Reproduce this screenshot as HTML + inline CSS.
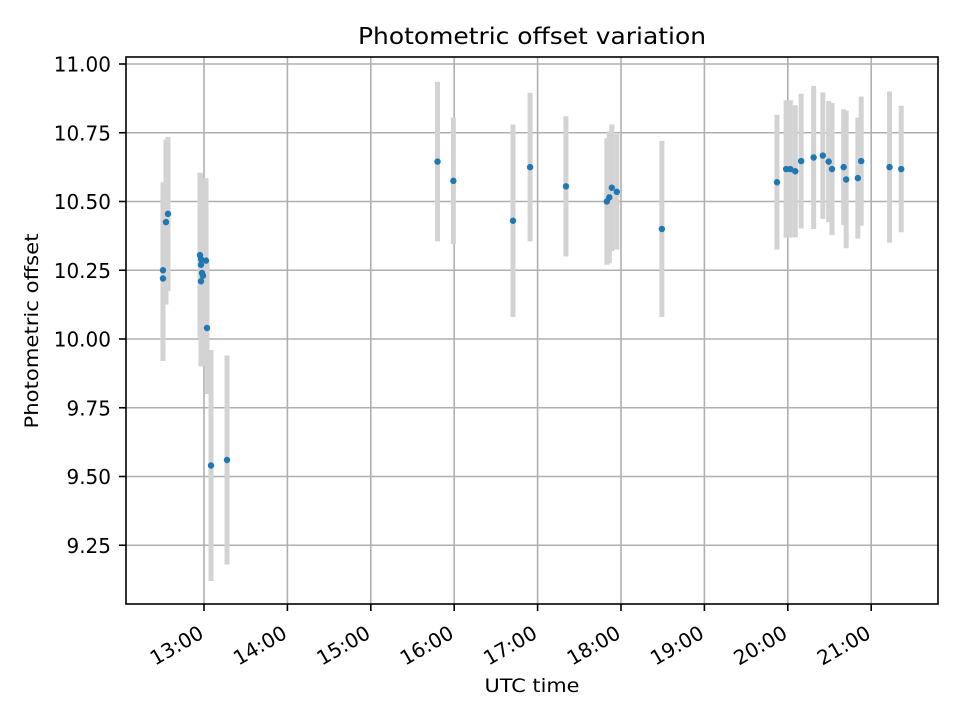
<!DOCTYPE html>
<html><head><meta charset="utf-8">
<style>
html,body{margin:0;padding:0;background:#fff;}
svg text{font-family:"DejaVu Sans","Liberation Sans",sans-serif;fill:#000;}
</style></head>
<body>
<svg id="chart" width="960" height="720" viewBox="0 0 960 720" xmlns="http://www.w3.org/2000/svg">
<rect width="960" height="720" fill="#fff"/>
<g id="grid"></g>
<g id="bars"></g>
<g id="pts"></g>
<rect x="126" y="57" width="812" height="547" fill="none" stroke="#000" stroke-width="1.6"/>
<g id="axes"></g>
<text x="532" y="44" font-size="23" text-anchor="middle" textLength="348" lengthAdjust="spacingAndGlyphs">Photometric offset variation</text>
<text x="532" y="692" font-size="19" text-anchor="middle" textLength="95" lengthAdjust="spacingAndGlyphs">UTC time</text>
<text transform="translate(38,331) rotate(-90)" font-size="19" text-anchor="middle" textLength="195" lengthAdjust="spacingAndGlyphs">Photometric offset</text>
</svg>
<script>
const hours = [12.508,12.508,12.544,12.568,12.952,12.964,12.964,12.976,12.988,12.964,13.024,13.036,13.084,13.276,15.80,15.99,16.705,16.91,17.34,17.83,17.86,17.89,17.95,18.49,19.87,19.98,20.03,20.09,20.16,20.31,20.42,20.49,20.53,20.67,20.70,20.84,20.88,21.22,21.36];
const offsets = [10.25,10.22,10.425,10.455,10.305,10.29,10.27,10.24,10.23,10.21,10.285,10.04,9.54,9.56,10.645,10.575,10.43,10.625,10.555,10.50,10.515,10.55,10.535,10.40,10.57,10.618,10.618,10.61,10.647,10.66,10.667,10.645,10.618,10.625,10.58,10.585,10.647,10.625,10.618];
const errors = [0.32,0.30,0.30,0.28,0.30,0.31,0.30,0.31,0.33,0.31,0.30,0.24,0.42,0.38,0.29,0.23,0.35,0.27,0.255,0.23,0.24,0.23,0.21,0.32,0.245,0.25,0.25,0.24,0.245,0.26,0.23,0.22,0.24,0.21,0.25,0.22,0.235,0.275,0.23];
const yTicks = [9.25,9.5,9.75,10.0,10.25,10.5,10.75,11.0];
const xTicks = [13,14,15,16,17,18,19,20,21];
const xTickLabels = ["13:00","14:00","15:00","16:00","17:00","18:00","19:00","20:00","21:00"];

const NS="http://www.w3.org/2000/svg";
function X(h){return 204+(h-13)*83.4;}
function Y(v){return 339-(v-10)*275;}
function mk(tag,attrs,parent){const e=document.createElementNS(NS,tag);for(const k in attrs)e.setAttribute(k,attrs[k]);parent.appendChild(e);return e;}
const grid=document.getElementById('grid'),axes=document.getElementById('axes'),bars=document.getElementById('bars'),pts=document.getElementById('pts');

yTicks.forEach(v=>{
  const y=Y(v);
  const g=mk('line',{x1:126,x2:938,y1:y,y2:y,stroke:'#b0b0b0','stroke-width':1.6},grid);
  
  
  const t=mk('line',{x1:119,x2:126,y1:y,y2:y,stroke:'#000','stroke-width':1.6},axes);
  
  
  const l=mk('text',{x:111,y:y+7.5,'font-size':20,'text-anchor':'end'},axes);
  l.textContent=v.toFixed(2);
  
  
});
xTicks.forEach((h,i)=>{
  const x=X(h);
  const g=mk('line',{x1:x,x2:x,y1:57,y2:604,stroke:'#b0b0b0','stroke-width':1.6},grid);
  
  
  const t=mk('line',{x1:x,x2:x,y1:604,y2:611,stroke:'#000','stroke-width':1.6},axes);
  
  
  const l=mk('text',{'font-size':20,'text-anchor':'end',transform:`translate(${x+1},${637}) rotate(-30)`},axes);
  l.textContent=xTickLabels[i];
  
  
});
hours.forEach((h,i)=>{
  const x=X(h);
  const b=mk('line',{x1:x,x2:x,y1:Y(offsets[i]+errors[i]),y2:Y(offsets[i]-errors[i]),stroke:'#d3d3d3','stroke-width':5},bars);
  
  
  const c=mk('circle',{cx:x,cy:Y(offsets[i]),r:3.2,fill:'#1f77b4'},pts);
  
  
});
</script>
</body></html>
